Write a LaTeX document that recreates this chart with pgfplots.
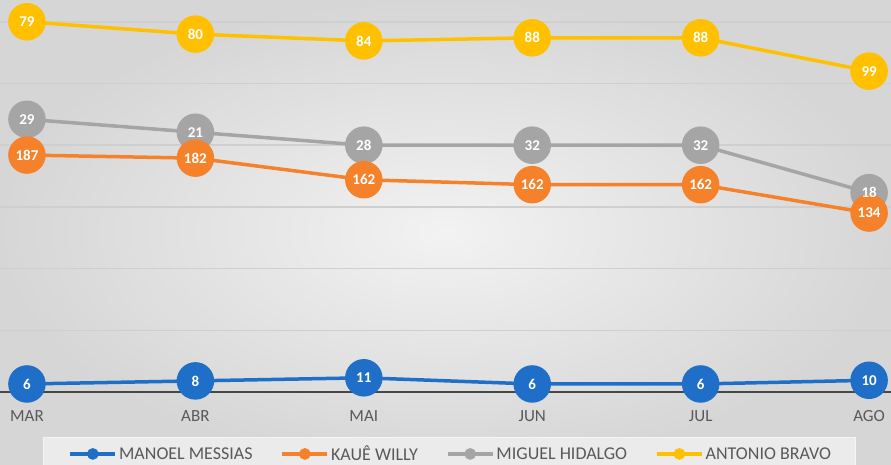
\documentclass[border=0pt]{standalone}
\usepackage{pgfplots}
\pgfplotsset{compat=1.18}
\usepackage{fontspec}
\setmainfont{Carlito}
\definecolor{cblue}{HTML}{1F6FC8}
\definecolor{corange}{HTML}{F5822A}
\definecolor{cgray}{HTML}{A5A5A5}
\definecolor{cyellow}{HTML}{FFC000}
\definecolor{txt}{HTML}{595959}
\definecolor{gridc}{HTML}{CFCFCF}
\pgfplotstableread{
x blue orange gray yellow lb lo lg ly
0 0.13 3.84 4.42 6.00 6 187 29 79
1 0.18 3.79 4.21 5.80 8 182 21 80
2 0.23 3.44 4.00 5.69 11 162 28 84
3 0.13 3.36 4.00 5.74 6 162 32 88
4 0.13 3.36 4.00 5.74 6 162 32 88
5 0.19 2.90 3.23 5.20 10 134 18 99
}\data
\begin{document}
\begin{tikzpicture}[x=1pt,y=1pt]
\shade[inner color=black!5, outer color=black!16] (0,0) rectangle (891,465);
\fill[black!8] (43,0) rectangle (855,28);
\draw[white!60!black!10, line width=0.8pt] (43,0) rectangle (855,28);
\begin{axis}[
  at={(0pt,73pt)}, anchor=south west,
  scale only axis, width=891pt, height=392pt,
  xmin=-0.16, xmax=5.13, ymin=0, ymax=6.353,
  clip=false,
  axis x line=bottom, axis y line=left,
  x axis line style={-, draw=black!72, line width=2pt},
  y axis line style={draw=none},
  xtick={0,...,5},
  xticklabels={MAR,ABR,MAI,JUN,JUL,AGO},
  ytick={1,...,6}, yticklabels={},
  major tick length=0pt,
  ymajorgrids, grid style={gridc, line width=1.5pt},
  xticklabel style={font=\fontsize{17}{17}\selectfont, text=txt, yshift=-15pt},
  legend style={at={(0.506,-0.158)}, anchor=center, draw=none, fill=none,
    legend columns=4, font=\fontsize{18}{18}\selectfont, text=txt,
    /tikz/every even column/.append style={column sep=26pt},
    legend cell align=left},
  legend image code/.code={\draw[#1, mark=none] (0pt,0pt)--(45pt,0pt); \fill[#1] (22.5pt,0pt) circle (4pt);},
  every axis plot/.append style={line width=3.5pt, mark=*, mark size=17pt},
  lbl/.style={draw=none, mark=none, forget plot,
    point meta=explicit symbolic, nodes near coords,
    nodes near coords style={anchor=center, text=white, font=\bfseries\fontsize{15}{15}\selectfont}},
]
\addlegendimage{cblue, line width=3.5pt}
\addlegendentry{MANOEL MESSIAS}
\addlegendimage{corange, line width=3.5pt}
\addlegendentry{KAUÊ WILLY}
\addlegendimage{cgray, line width=3.5pt}
\addlegendentry{MIGUEL HIDALGO}
\addlegendimage{cyellow, line width=3.5pt}
\addlegendentry{ANTONIO BRAVO}

\addplot[cblue, mark options={fill=cblue, draw=cblue}, forget plot] table[x=x, y=blue] {\data};
\addplot[cgray, mark options={fill=cgray, draw=cgray}, forget plot] table[x=x, y=gray] {\data};
\addplot[corange, mark options={fill=corange, draw=corange}, forget plot] table[x=x, y=orange] {\data};
\addplot[cyellow, mark options={fill=cyellow, draw=cyellow}, forget plot] table[x=x, y=yellow] {\data};

\addplot[lbl] table[x=x, y=blue, meta=lb] {\data};
\addplot[lbl] table[x=x, y=orange, meta=lo] {\data};
\addplot[lbl] table[x=x, y=gray, meta=lg] {\data};
\addplot[lbl] table[x=x, y=yellow, meta=ly] {\data};
\end{axis}
\pgfresetboundingbox
\path[use as bounding box] (0,0) rectangle (891,465);
\end{tikzpicture}
\end{document}
